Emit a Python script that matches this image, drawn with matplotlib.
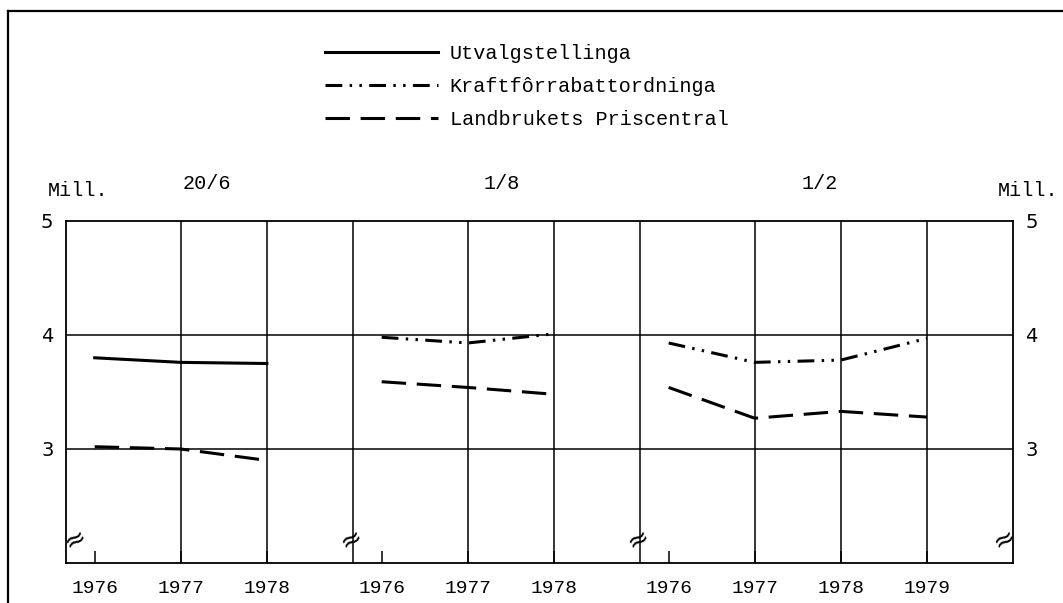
import numpy as np
import matplotlib
matplotlib.use("Agg")
import matplotlib.pyplot as plt
from matplotlib.lines import Line2D

# Data (values in millions)
group_titles = ["20/6", "1/8", "1/2"]
years_ab = [1976, 1977, 1978]
years_c = [1976, 1977, 1978, 1979]

utval_206 = [3.80, 3.76, 3.75]
pris_206 = [3.02, 3.00, 2.90]

kraft_18 = [3.98, 3.93, 4.01]
pris_18 = [3.59, 3.54, 3.48]

kraft_12 = [3.93, 3.76, 3.78, 3.97]
pris_12 = [3.54, 3.27, 3.33, 3.28]

labels = ["Utvalgstellinga", "Kraftfôrrabattordninga", "Landbrukets Priscentral"]
yticks = [3, 4, 5]

# Layout: each group starts a third of a year after its break line
group_start = [1 / 3, 11 / 3, 21 / 3]
breaks = [0, 10 / 3, 20 / 3, 11]

mono = "Liberation Mono"
W, H = 1063, 603

solid = dict(color="black", lw=2.2, ls="-")
dashdot = dict(color="black", lw=2.2, ls=(0, (5.5, 2.4, 0.8, 2.4, 0.8, 2.4)))
dashed = dict(color="black", lw=2.2, ls=(0, (8, 3.5)))


def xpos(g, years):
    return [group_start[g] + (y - 1976) for y in years]


fig = plt.figure(figsize=(W / 100, H / 100), dpi=100)
ax = fig.add_axes([66 / W, 40 / H, (1013 - 66) / W, (563 - 221) / H])
ax.set_xlim(0, 11)
ax.set_ylim(2, 5)

# grid
for y in [3, 4]:
    ax.axhline(y, color="black", lw=1.1)
for g, yrs in enumerate([years_ab, years_ab, years_c]):
    xs = xpos(g, yrs)
    for x in xs[1:]:
        ax.axvline(x, color="black", lw=1.1)
for b in breaks[1:3]:
    ax.axvline(b, color="black", lw=1.1)
for s in ax.spines.values():
    s.set_linewidth(1.3)

# series
ax.plot(xpos(0, years_ab), utval_206, **solid)
ax.plot(xpos(0, years_ab), pris_206, **dashed)
ax.plot(xpos(1, years_ab), kraft_18, **dashdot)
ax.plot(xpos(1, years_ab), pris_18, **dashed)
ax.plot(xpos(2, years_c), kraft_12, **dashdot)
ax.plot(xpos(2, years_c), pris_12, **dashed)

# x ticks
xt, xl = [], []
for g, yrs in enumerate([years_ab, years_ab, years_c]):
    xt += xpos(g, yrs)
    xl += [str(y) for y in yrs]
ax.set_xticks(xt)
ax.set_xticklabels(xl, fontfamily=mono, fontsize=14)
ax.tick_params(axis="x", direction="in", length=8.5, width=1.1, pad=12)

# y ticks on both sides, no tick marks
ax.set_yticks(yticks)
ax.set_yticklabels([str(v) for v in yticks], fontfamily="DejaVu Sans", fontsize=14)
ax.tick_params(axis="y", length=0, pad=9, labelright=True)

# axis-break marks
for b in breaks:
    dx = 0.1 if b == 0 else (-0.1 if b == 11 else -0.02)
    ax.text(b + dx, 2.21, "≈", rotation=30, ha="center", va="center",
            fontsize=19, fontfamily="DejaVu Sans")

# group titles and units
title_x = [(207 - 66) / 86.1, (502 - 66) / 86.1, (820 - 66) / 86.1]
for tx, t in zip(title_x, group_titles):
    ax.text(tx, 5.33, t, ha="center", va="center", fontfamily=mono, fontsize=14.5,
            clip_on=False)
ax.text(-0.21, 5.27, "Mill.", ha="left", va="center", fontfamily=mono, fontsize=14.5,
        clip_on=False)
ax.text(10.82, 5.27, "Mill.", ha="left", va="center", fontfamily=mono, fontsize=14.5,
        clip_on=False)

# legend
handles = [Line2D([], [], **solid), Line2D([], [], **dashdot), Line2D([], [], **dashed)]
fig.legend(handles, labels, loc="upper left", bbox_to_anchor=(325 / W, 1 - 44 / H),
           frameon=False, handlelength=5.6, handletextpad=0.6, labelspacing=0.70,
           borderpad=0, borderaxespad=0, prop={"family": mono, "size": 14.5})

# outer frame (top and left)
fig.add_artist(Line2D([8 / W, 1], [1 - 11 / H, 1 - 11 / H], color="black", lw=1.6,
                      transform=fig.transFigure))
fig.add_artist(Line2D([8 / W, 8 / W], [0, 1 - 11 / H], color="black", lw=1.6,
                      transform=fig.transFigure))

fig.savefig("out.png", dpi=100)
